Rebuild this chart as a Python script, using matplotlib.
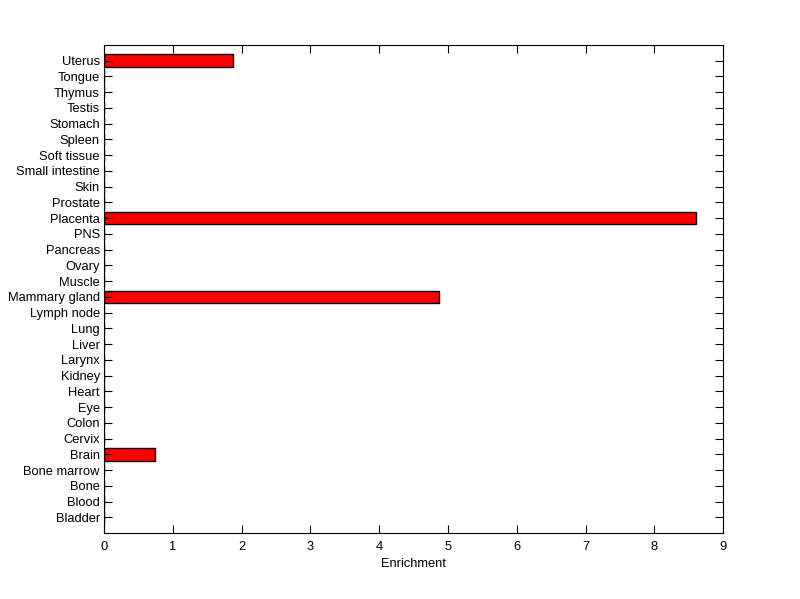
import numpy as np
import matplotlib
matplotlib.use('Agg')
import matplotlib.pyplot as plt

tissues = ['Bladder', 'Blood', 'Bone', 'Bone marrow', 'Brain', 'Cervix', 'Colon',
           'Eye', 'Heart', 'Kidney', 'Larynx', 'Liver', 'Lung', 'Lymph node',
           'Mammary gland', 'Muscle', 'Ovary', 'Pancreas', 'PNS', 'Placenta',
           'Prostate', 'Skin', 'Small intestine', 'Soft tissue', 'Spleen',
           'Stomach', 'Testis', 'Thymus', 'Tongue', 'Uterus']
enrichment = [0, 0, 0, 0, 0.735, 0, 0, 0, 0, 0, 0, 0, 0, 0,
              4.87, 0, 0, 0, 0, 8.61, 0, 0, 0, 0, 0, 0, 0, 0, 0, 1.875]

plt.rcParams['font.family'] = 'Liberation Sans'
plt.rcParams['font.size'] = 9.3

fig = plt.figure(figsize=(8, 5.99), dpi=100)
ax = fig.add_axes([0.13, 0.110, 0.774, 0.815])

pos = np.arange(1, len(tissues) + 1)
ax.barh(pos, enrichment, height=0.8, color='#ff0000', edgecolor='black', linewidth=1)

ax.set_xlim(0, 9)
ax.set_ylim(0, 31)
ax.set_xticks(range(10))
ax.set_yticks(pos)
ax.set_yticklabels(tissues)
ax.set_xlabel('Enrichment', labelpad=4)
ax.tick_params(direction='in', length=6, width=0.8, top=True, right=True, pad=3, colors='black')
ax.tick_params(axis='x', pad=5.5)
for s in ax.spines.values():
    s.set_linewidth(0.8)

fig.savefig('out.png', dpi=100)
